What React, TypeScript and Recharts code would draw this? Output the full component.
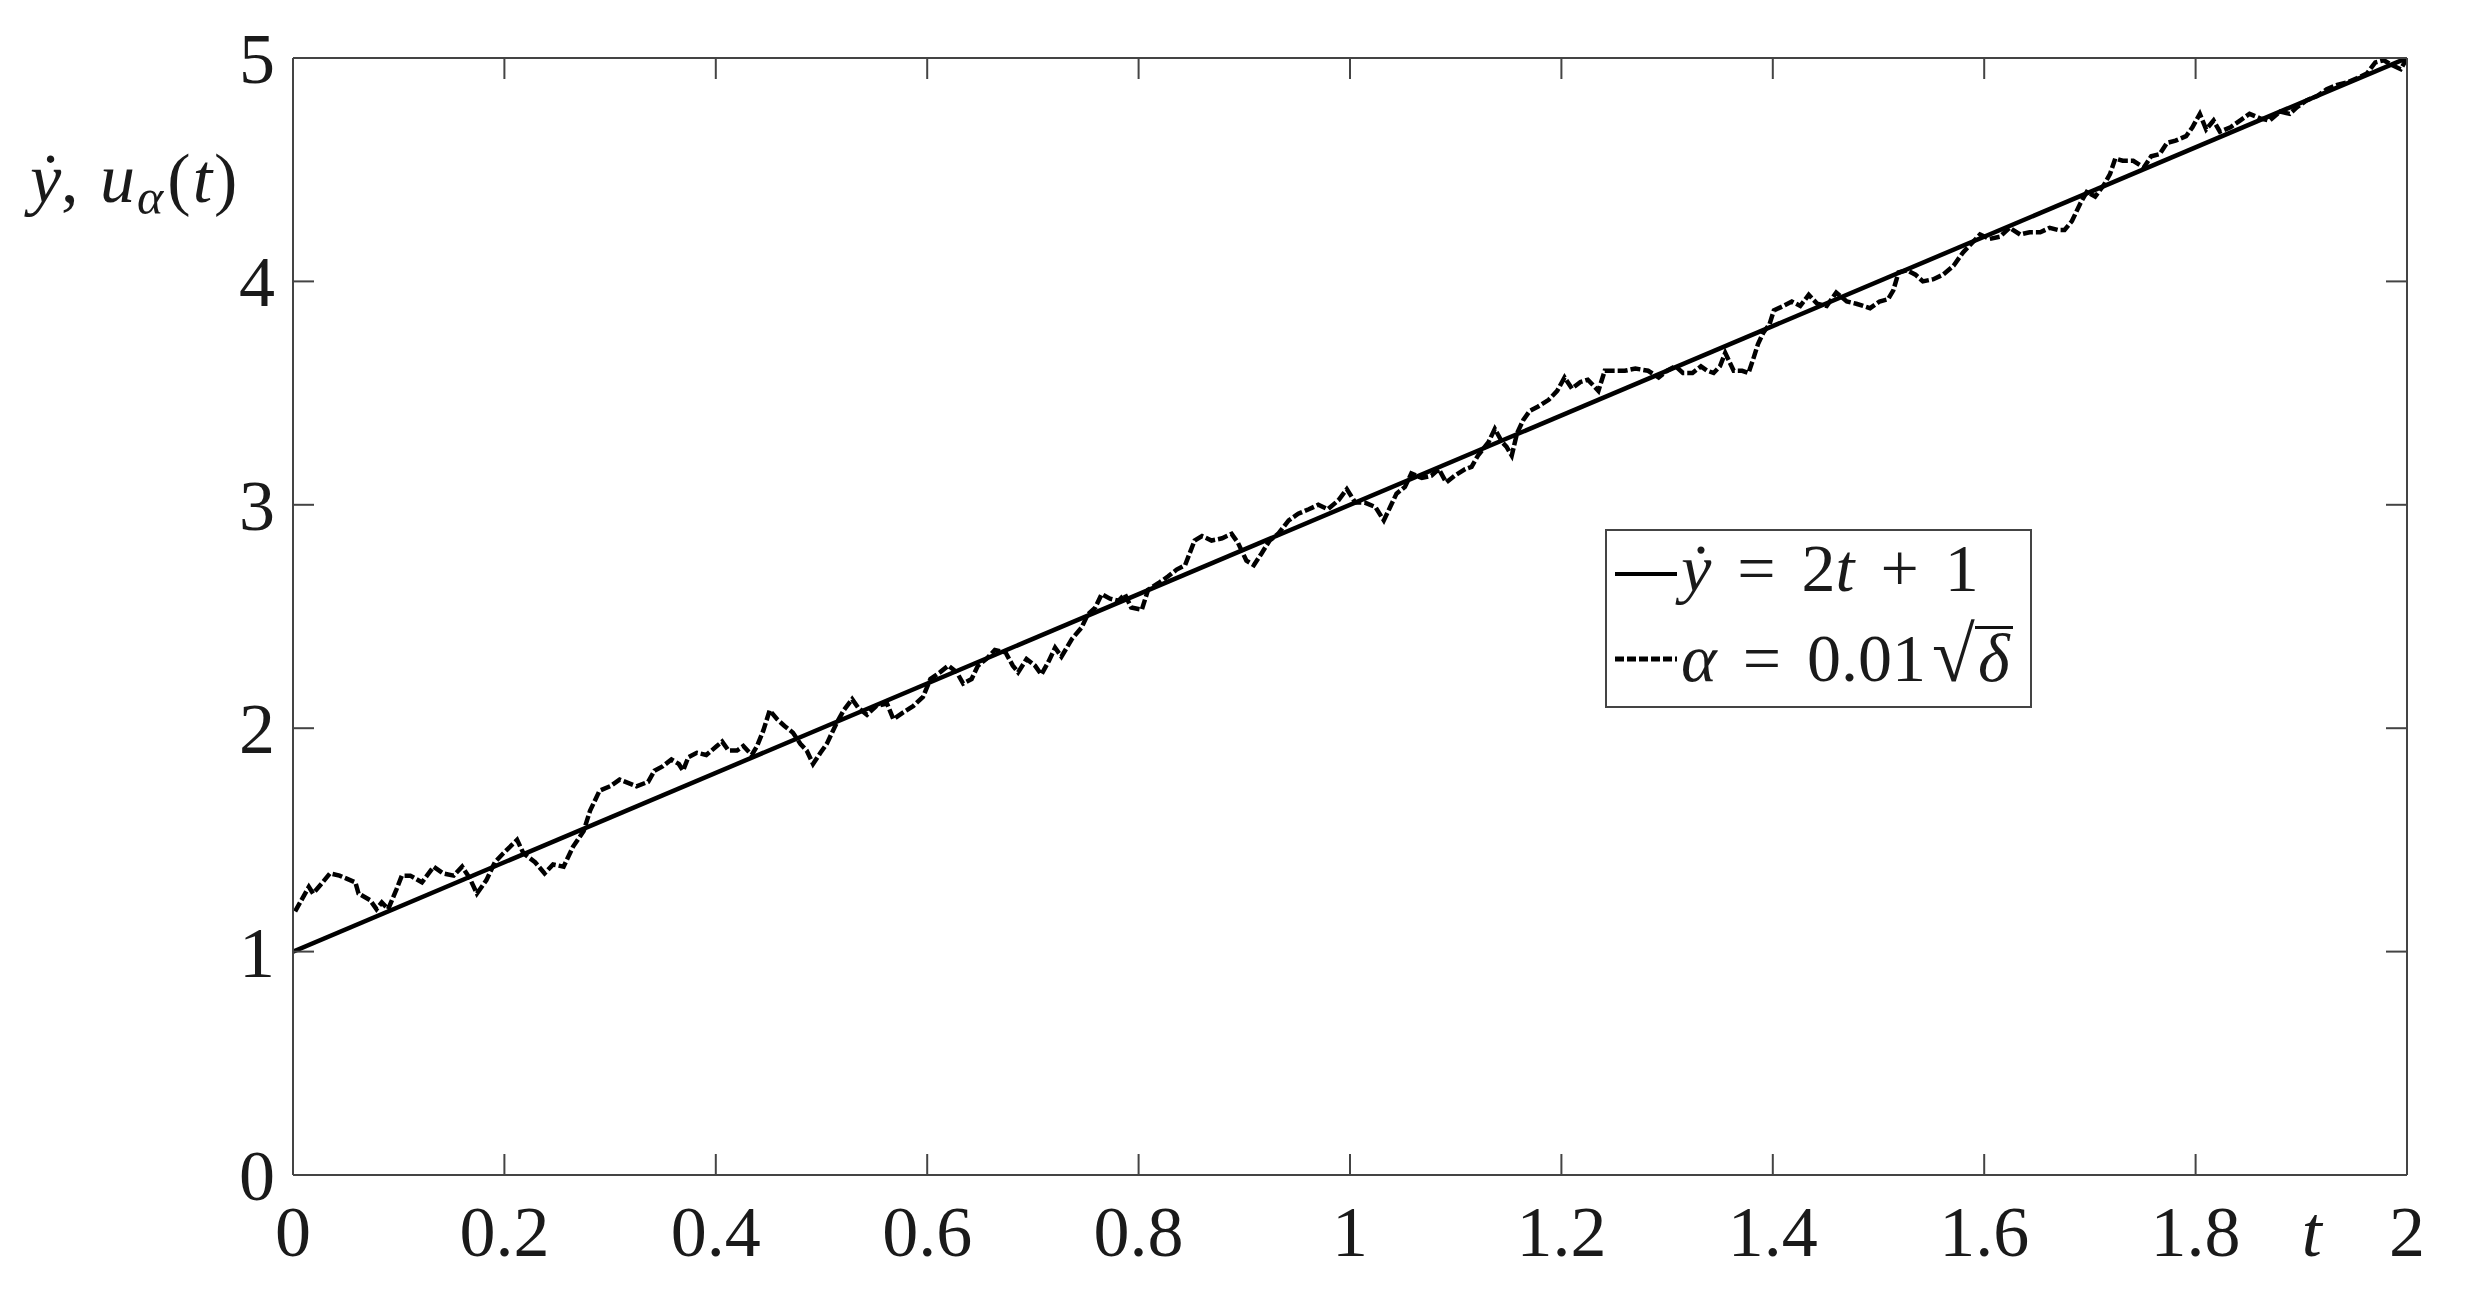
import { LineChart, Line, XAxis, YAxis, Legend, Label } from 'recharts';

// axis ticks
const T_TICKS = [0, 0.2, 0.4, 0.6, 0.8, 1, 1.2, 1.4, 1.6, 1.8, 2];
const U_TICKS = [0, 1, 2, 3, 4, 5];

// legend labels
const SERIES_NAMES = ['ẏ = 2t + 1', 'α = 0.01√δ'];

// exact solution, endpoints
const EXACT_T = [0, 2];
const EXACT_Y = [1, 5];

// regularized solution u_alpha(t)
const NOISY_T = [
    0.002, 0.015, 0.019, 0.028, 0.035, 0.044, 0.059, 0.062, 0.073, 0.079, 0.084, 0.09, 0.098, 0.103, 0.111,
    0.122, 0.133, 0.142, 0.152, 0.16, 0.167, 0.174, 0.183, 0.191, 0.199, 0.212, 0.218, 0.229, 0.238, 0.246,
    0.256, 0.265, 0.275, 0.281, 0.29, 0.3, 0.309, 0.325, 0.336, 0.342, 0.35, 0.358, 0.365, 0.369, 0.374,
    0.382, 0.391, 0.401, 0.406, 0.412, 0.42, 0.426, 0.434, 0.439, 0.445, 0.451, 0.458, 0.465, 0.473, 0.48,
    0.486, 0.492, 0.499, 0.505, 0.514, 0.521, 0.529, 0.535, 0.543, 0.552, 0.562, 0.568, 0.577, 0.587, 0.596,
    0.603, 0.612, 0.62, 0.628, 0.634, 0.642, 0.648, 0.656, 0.664, 0.674, 0.681, 0.686, 0.694, 0.702, 0.708,
    0.715, 0.721, 0.727, 0.737, 0.746, 0.752, 0.759, 0.765, 0.773, 0.781, 0.787, 0.793, 0.803, 0.809, 0.819,
    0.828, 0.836, 0.844, 0.853, 0.86, 0.869, 0.879, 0.888, 0.894, 0.902, 0.909, 0.916, 0.924, 0.932, 0.942,
    0.951, 0.961, 0.97, 0.979, 0.989, 0.997, 1.005, 1.014, 1.024, 1.032, 1.038, 1.044, 1.052, 1.058, 1.068,
    1.077, 1.084, 1.091, 1.099, 1.109, 1.115, 1.121, 1.131, 1.137, 1.144, 1.148, 1.153, 1.158, 1.164, 1.17,
    1.178, 1.188, 1.196, 1.203, 1.21, 1.218, 1.225, 1.235, 1.241, 1.251, 1.26, 1.27, 1.282, 1.292, 1.3,
    1.308, 1.315, 1.324, 1.332, 1.338, 1.344, 1.35, 1.355, 1.363, 1.371, 1.377, 1.382, 1.386, 1.391, 1.397,
    1.401, 1.41, 1.418, 1.426, 1.434, 1.442, 1.451, 1.46, 1.47, 1.479, 1.492, 1.501, 1.509, 1.514, 1.519,
    1.527, 1.535, 1.542, 1.552, 1.561, 1.571, 1.58, 1.588, 1.596, 1.605, 1.615, 1.624, 1.634, 1.643, 1.653,
    1.662, 1.67, 1.676, 1.683, 1.691, 1.697, 1.705, 1.713, 1.719, 1.724, 1.731, 1.741, 1.751, 1.758, 1.766,
    1.773, 1.781, 1.791, 1.797, 1.804, 1.81, 1.817, 1.823, 1.833, 1.842, 1.851, 1.861, 1.87, 1.88, 1.889,
    1.896, 1.905, 1.915, 1.924, 1.934, 1.943, 1.953, 1.962, 1.97, 1.978, 1.985, 1.994, 1.999,
];
const NOISY_U = [
    1.18, 1.29, 1.26, 1.31, 1.35, 1.34, 1.31, 1.26, 1.23, 1.19, 1.22, 1.19, 1.28, 1.34, 1.34,
    1.31, 1.38, 1.35, 1.34, 1.38, 1.33, 1.26, 1.32, 1.4, 1.44, 1.5, 1.44, 1.4, 1.35, 1.39,
    1.38, 1.47, 1.54, 1.63, 1.72, 1.74, 1.77, 1.74, 1.76, 1.81, 1.83, 1.86, 1.84, 1.81, 1.87,
    1.89, 1.88, 1.92, 1.94, 1.9, 1.9, 1.92, 1.88, 1.92, 1.99, 2.08, 2.04, 2.01, 1.98, 1.93,
    1.9, 1.84, 1.89, 1.93, 2.02, 2.08, 2.13, 2.09, 2.06, 2.1, 2.11, 2.04, 2.07, 2.1, 2.14,
    2.22, 2.25, 2.28, 2.25, 2.2, 2.22, 2.28, 2.31, 2.35, 2.34, 2.28, 2.25, 2.31, 2.28, 2.24,
    2.3, 2.36, 2.32, 2.4, 2.45, 2.51, 2.54, 2.6, 2.58, 2.57, 2.6, 2.54, 2.53, 2.62, 2.65,
    2.68, 2.71, 2.73, 2.84, 2.86, 2.84, 2.85, 2.87, 2.83, 2.75, 2.73, 2.78, 2.84, 2.87, 2.93,
    2.96, 2.98, 3.0, 2.98, 3.02, 3.07, 3.01, 3.01, 2.99, 2.93, 2.99, 3.05, 3.08, 3.14, 3.12,
    3.13, 3.16, 3.1, 3.13, 3.16, 3.17, 3.22, 3.28, 3.34, 3.28, 3.26, 3.22, 3.32, 3.38, 3.42,
    3.44, 3.47, 3.51, 3.57, 3.52, 3.55, 3.56, 3.51, 3.6, 3.6, 3.6, 3.61, 3.6, 3.57, 3.6,
    3.62, 3.59, 3.59, 3.62, 3.6, 3.59, 3.62, 3.68, 3.6, 3.6, 3.59, 3.66, 3.72, 3.77, 3.81,
    3.87, 3.89, 3.91, 3.89, 3.94, 3.9, 3.89, 3.95, 3.91, 3.9, 3.88, 3.91, 3.92, 3.96, 4.04,
    4.05, 4.03, 4.0, 4.01, 4.03, 4.07, 4.13, 4.17, 4.21, 4.19, 4.2, 4.24, 4.21, 4.22, 4.22,
    4.24, 4.23, 4.23, 4.27, 4.35, 4.4, 4.38, 4.43, 4.48, 4.55, 4.54, 4.54, 4.51, 4.56, 4.57,
    4.62, 4.63, 4.65, 4.69, 4.75, 4.68, 4.72, 4.67, 4.69, 4.72, 4.75, 4.73, 4.72, 4.76, 4.75,
    4.78, 4.81, 4.83, 4.86, 4.88, 4.89, 4.91, 4.93, 4.98, 4.99, 4.97, 4.95, 4.99,
];

const exactData = EXACT_T.map((t, i) => ({ t, y: EXACT_Y[i] }));
const noisyData = NOISY_T.map((t, i) => ({ t, u: NOISY_U[i] }));

const FONT = '"Liberation Serif", "Times New Roman", serif';
const AXIS_COLOR = '#444';
const TEXT_COLOR = '#1a1a1a';
const TICK_LEN = 21;
const TICK_FONT = 72;

const axisLine = { stroke: AXIS_COLOR, strokeWidth: 2 };

// ticks point inward, like the MATLAB box
function BottomTick({ x, y, payload }: any) {
    return (
        <g>
            <line x1={x} y1={y} x2={x} y2={y - TICK_LEN} stroke={AXIS_COLOR} strokeWidth={2} />
            <text x={x} y={y + 81} textAnchor="middle" fontSize={TICK_FONT} fontFamily={FONT} fill={TEXT_COLOR}>
                {String(payload.value)}
            </text>
        </g>
    );
}

function TopTick({ x, y }: any) {
    return <line x1={x} y1={y} x2={x} y2={y + TICK_LEN} stroke={AXIS_COLOR} strokeWidth={2} />;
}

function LeftTick({ x, y, payload }: any) {
    return (
        <g>
            <line x1={x} y1={y} x2={x + TICK_LEN} y2={y} stroke={AXIS_COLOR} strokeWidth={2} />
            <text x={x - 18} y={y + 25} textAnchor="end" fontSize={TICK_FONT} fontFamily={FONT} fill={TEXT_COLOR}>
                {String(payload.value)}
            </text>
        </g>
    );
}

function RightTick({ x, y }: any) {
    return <line x1={x} y1={y} x2={x - TICK_LEN} y2={y} stroke={AXIS_COLOR} strokeWidth={2} />;
}

function TLabel({ viewBox }: any) {
    if (!viewBox) return null;
    return (
        <text
            x={viewBox.x + viewBox.width * 0.955}
            y={viewBox.y + 81}
            textAnchor="middle"
            fontSize={TICK_FONT}
            fontStyle="italic"
            fontFamily={FONT}
            fill={TEXT_COLOR}
        >
            t
        </text>
    );
}

function ULabel({ viewBox }: any) {
    if (!viewBox) return null;
    return (
        <text x={viewBox.x + 22} y={viewBox.y + 144} fontSize={70} fontFamily={FONT} fill={TEXT_COLOR}>
            <tspan fontStyle="italic">ẏ</tspan>
            <tspan>, </tspan>
            <tspan fontStyle="italic" dx={4}>u</tspan>
            <tspan fontStyle="italic" fontSize={50} dy={12} dx={2}>α</tspan>
            <tspan dy={-12} dx={4}>(</tspan>
            <tspan fontStyle="italic" dx={2}>t</tspan>
            <tspan dx={2}>)</tspan>
        </text>
    );
}

// letters italic, digits and operators upright, like TeX math
function MathText({ text }: { text: string }) {
    const parts: any[] = [];
    const chars = Array.from(text);
    chars.forEach((ch, i) => {
        if (ch === '√') {
            parts.push(
                <span key={i} style={{ marginLeft: 6, fontSize: 78, lineHeight: '64px' }}>
                    √
                </span>
            );
        } else if (/[a-zα-ωẏ]/i.test(ch)) {
            const over = chars[i - 1] === '√';
            parts.push(
                <span
                    key={i}
                    style={{
                        fontStyle: 'italic',
                        borderTop: over ? '3px solid #111' : undefined,
                        display: over ? 'inline-block' : 'inline',
                        lineHeight: over ? '58px' : undefined,
                        paddingLeft: over ? 3 : undefined,
                        paddingRight: over ? 4 : undefined,
                    }}
                >
                    {ch}
                </span>
            );
        } else if (ch === ' ') {
            parts.push(<span key={i} style={{ display: 'inline-block', width: 26 }} />);
        } else {
            parts.push(<span key={i}>{ch}</span>);
        }
    });
    return <>{parts}</>;
}

function LegendBox({ payload }: any) {
    const rows = payload ?? [];
    return (
        <div
            style={{
                width: 427,
                height: 179,
                boxSizing: 'border-box',
                border: `2px solid ${AXIS_COLOR}`,
                background: '#fff',
                position: 'relative',
                fontFamily: FONT,
                fontSize: 68,
                color: TEXT_COLOR,
            }}
        >
            {rows.map((entry: any, i: number) => (
                <div key={i}>
                    <svg
                        width={64}
                        height={12}
                        style={{ position: 'absolute', left: 8, top: (i === 0 ? 45 : 130) - 6 - 2 }}
                    >
                        <line
                            x1={0}
                            y1={6}
                            x2={62}
                            y2={6}
                            stroke="#000"
                            strokeWidth={i === 0 ? 4 : 5}
                            strokeDasharray={i === 0 ? undefined : '9 3'}
                        />
                    </svg>
                    <div
                        style={{
                            position: 'absolute',
                            left: 74,
                            top: i === 0 ? 5 : 92,
                            lineHeight: '64px',
                            whiteSpace: 'nowrap',
                        }}
                    >
                        <MathText text={SERIES_NAMES[i] ?? String(entry.value)} />
                    </div>
                </div>
            ))}
        </div>
    );
}

export default function App() {
    return (
        <div style={{ width: 2465, height: 1289, background: '#fff' }}>
            <LineChart width={2465} height={1289} margin={{ top: 0, right: 0, bottom: 0, left: 0 }}>
                <XAxis
                    xAxisId="bottom"
                    orientation="bottom"
                    type="number"
                    dataKey="t"
                    domain={[0, 2]}
                    ticks={T_TICKS}
                    interval={0}
                    height={122}
                    tickSize={0}
                    tickMargin={0}
                    axisLine={axisLine}
                    tickLine={false}
                    tick={<BottomTick />}
                    allowDataOverflow
                >
                    <Label content={<TLabel />} />
                </XAxis>
                <XAxis
                    xAxisId="top"
                    orientation="top"
                    type="number"
                    dataKey="t"
                    domain={[0, 2]}
                    ticks={T_TICKS}
                    interval={0}
                    height={50}
                    tickSize={0}
                    tickMargin={0}
                    axisLine={axisLine}
                    tickLine={false}
                    tick={<TopTick />}
                    allowDataOverflow
                />
                <YAxis
                    yAxisId="left"
                    orientation="left"
                    type="number"
                    domain={[0, 5]}
                    ticks={U_TICKS}
                    interval={0}
                    width={285}
                    tickSize={0}
                    tickMargin={0}
                    axisLine={axisLine}
                    tickLine={false}
                    tick={<LeftTick />}
                    allowDataOverflow
                >
                    <Label content={<ULabel />} />
                </YAxis>
                <YAxis
                    yAxisId="right"
                    orientation="right"
                    type="number"
                    domain={[0, 5]}
                    ticks={U_TICKS}
                    interval={0}
                    width={66}
                    tickSize={0}
                    tickMargin={0}
                    axisLine={axisLine}
                    tickLine={false}
                    tick={<RightTick />}
                    allowDataOverflow
                />
                <Legend
                    layout="vertical"
                    align="center"
                    verticalAlign="middle"
                    wrapperStyle={{ left: 1597, top: 521, width: 427, height: 179 }}
                    content={<LegendBox />}
                />
                <Line
                    xAxisId="top"
                    yAxisId="right"
                    data={exactData}
                    dataKey="y"
                    name={SERIES_NAMES[0]}
                    type="linear"
                    stroke="#000"
                    strokeWidth={4.5}
                    dot={false}
                    activeDot={false}
                    isAnimationActive={false}
                />
                <Line
                    xAxisId="bottom"
                    yAxisId="left"
                    data={noisyData}
                    dataKey="u"
                    name={SERIES_NAMES[1]}
                    type="linear"
                    stroke="#000"
                    strokeWidth={4.5}
                    strokeDasharray="10 3"
                    dot={false}
                    activeDot={false}
                    isAnimationActive={false}
                />
            </LineChart>
        </div>
    );
}
